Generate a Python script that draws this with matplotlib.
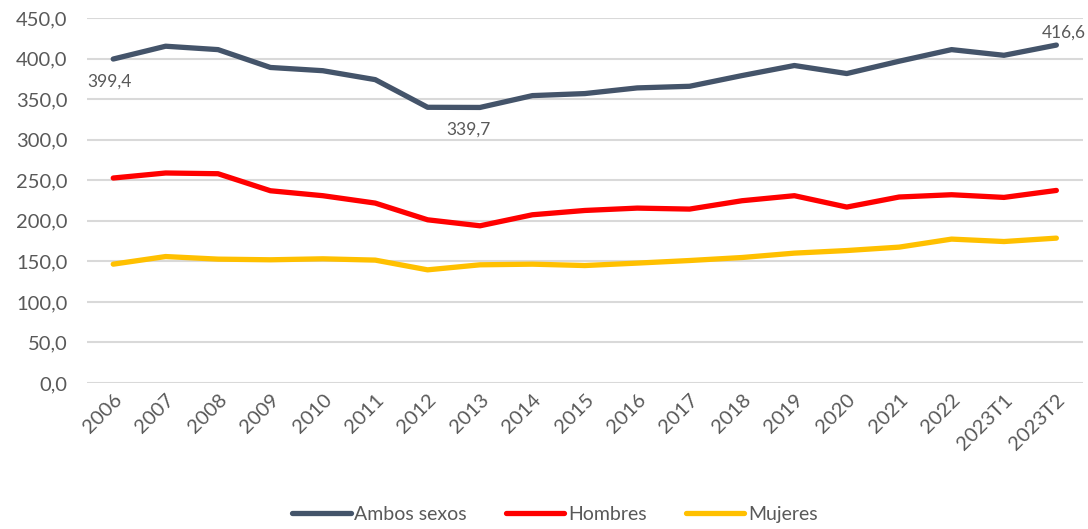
import matplotlib.pyplot as plt

plt.rcParams['font.family'] = ['Lato', 'DejaVu Sans']

years = ['2006', '2007', '2008', '2009', '2010', '2011', '2012', '2013', '2014',
         '2015', '2016', '2017', '2018', '2019', '2020', '2021', '2022',
         '2023T1', '2023T2']
ambos = [399.4, 415.2, 411.0, 389.0, 385.0, 374.0, 339.9, 339.7, 354.3,
         356.8, 363.8, 365.8, 379.0, 391.4, 381.5, 396.7, 411.0, 404.0, 416.6]
hombres = [252.7, 258.9, 258.0, 237.0, 230.9, 221.8, 201.2, 193.8, 207.4,
           212.7, 215.6, 214.4, 224.7, 230.9, 216.9, 229.3, 232.1, 228.8, 237.4]
mujeres = [146.5, 155.9, 152.7, 151.9, 153.1, 151.5, 139.5, 145.7, 146.5,
           144.8, 147.8, 151.0, 154.7, 160.1, 163.3, 167.5, 177.4, 174.4, 178.6]

text_color = '#595959'

fig = plt.figure(figsize=(10.88, 5.29), dpi=100)
ax = fig.add_axes([0.08, 0.276, 0.915, 0.69])

x = range(len(years))
ax.plot(x, ambos, color='#44546A', lw=3.8, label='Ambos sexos', solid_capstyle='round')
ax.plot(x, hombres, color='#FF0000', lw=3.8, label='Hombres', solid_capstyle='round')
ax.plot(x, mujeres, color='#FFC000', lw=3.8, label='Mujeres', solid_capstyle='round')

# data labels
ax.annotate('399,4', (0, ambos[0]), xytext=(-3, -16), textcoords='offset points',
            ha='center', va='center', fontsize=12.5, color=text_color)
ax.annotate('339,7', (7, ambos[7]), xytext=(-8, -16), textcoords='offset points',
            ha='center', va='center', fontsize=12.5, color=text_color)
ax.annotate('416,6', (18, ambos[18]), xytext=(5, 9), textcoords='offset points',
            ha='center', va='center', fontsize=12.5, color=text_color)

ax.set_ylim(0, 450)
ax.set_xlim(-0.5, len(years) - 0.5)
ax.set_yticks(range(0, 451, 50))
ax.set_yticklabels([f'{v},0' for v in range(0, 451, 50)])
ax.set_xticks(list(x))
ax.set_xticklabels(years, rotation=45, ha='right', rotation_mode='anchor')
ax.tick_params(axis='both', length=0, labelsize=14.5, colors=text_color)
ax.tick_params(axis='y', pad=14)
ax.tick_params(axis='x', pad=6)

ax.grid(axis='y', color='#D9D9D9', lw=1.5)
ax.set_axisbelow(True)
for s in ax.spines.values():
    s.set_visible(False)

fig.legend(loc='center', bbox_to_anchor=(0.51, 0.027), ncol=3, frameon=False,
           fontsize=14, handlelength=3.0, handletextpad=0.2, columnspacing=2.0,
           labelcolor=text_color)

fig.savefig('out.png', dpi=100)
